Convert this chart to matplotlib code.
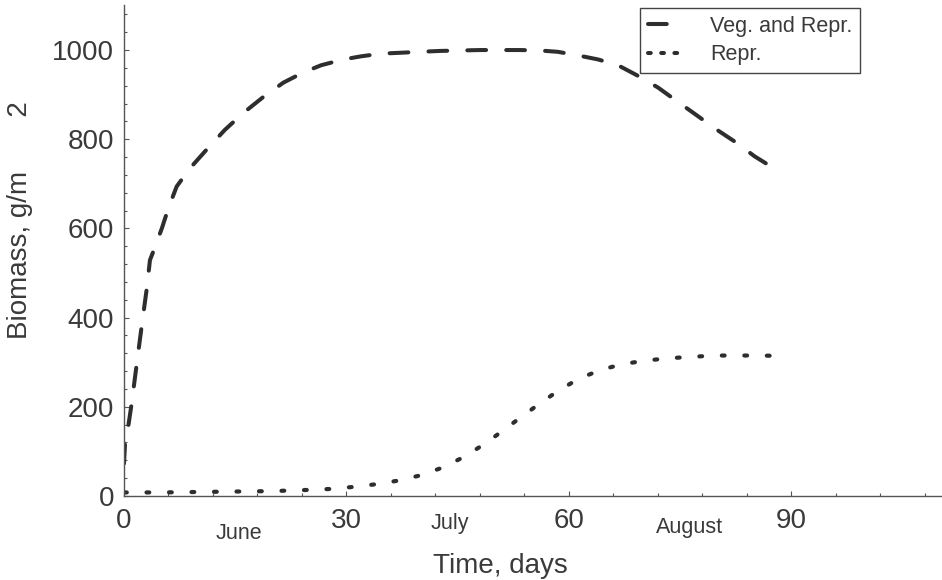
""" Biomass over the season: vegetative + reproductive vs reproductive only. """
import matplotlib as mpl
mpl.use('Agg')
import matplotlib.pyplot as plt
from matplotlib.ticker import MultipleLocator
from matplotlib.lines import Line2D
import matplotlib.transforms as mtransforms

# values
veg_days = [0, 0.15, 0.6, 1.0, 1.7, 2.4, 3.1, 3.5, 4.2, 5.1, 6.0, 7.1, 8.9, 11.1,
            13.6, 16.1, 18.8, 21.5, 24.2, 26.6, 29.6, 32.0, 34.7, 37.4, 39.9, 42.6,
            45.3, 48.0, 50.7, 53.4, 56.1, 58.5, 61.2, 63.9, 66.6, 69.1, 72.0, 74.5,
            77.2, 79.7, 82.6, 85.0, 88.0]
veg_biomass = [73, 119, 159, 204, 294, 383, 469, 529, 559, 600, 646, 694, 735, 776,
               821, 859, 895, 927, 950, 966, 979, 986, 992, 994, 996, 998,
               999, 1000, 1000, 1000, 999, 996, 988, 979, 966, 944, 916, 886,
               854, 824, 792, 762, 731]

repr_days = [0, 5, 10, 15, 20, 24.6, 27.7, 30.7, 33.8, 36.8, 39.9, 43.0, 46.0, 49.0,
             52.0, 55.2, 58.2, 61.2, 64.3, 67.3, 70.5, 73.5, 76.5, 79.6, 82.6, 85.6, 89.0]
repr_biomass = [8, 8, 9, 10, 11, 13.5, 15.7, 20, 26, 34, 46, 64, 89, 121,
                158, 197, 232, 262, 283, 296, 304, 309, 312, 315, 315, 315, 314]

series_labels = ['Veg. and Repr.', 'Repr.']
x_ticks = [0, 30, 60, 90]
month_names = ['June', 'July', 'August']
month_pos = [15.5, 43.9, 76.2]

plt.rcParams['font.family'] = ['Liberation Sans', 'DejaVu Sans']
plt.rcParams['lines.scale_dashes'] = False

ink = '#2e2e2e'
text_c = '#3a3a3a'
axis_c = '#555555'

fig = plt.figure(figsize=(9.42, 5.80), dpi=100)
ax = fig.add_axes([124 / 942, 84 / 580, 818 / 942, 491 / 580])

ax.plot(veg_days, veg_biomass, color=ink, lw=2.9, dashes=(13.5, 14.5),
        dash_capstyle='round', solid_capstyle='round')
ax.plot(repr_days, repr_biomass, color=ink, lw=3.0, dashes=(2.0, 14.2),
        dash_capstyle='round', solid_capstyle='round')

ax.set_xlim(0, 110.3)
ax.set_ylim(0, 1101)

for side in ['top', 'right']:
    ax.spines[side].set_visible(False)
for side in ['left', 'bottom']:
    ax.spines[side].set_color(axis_c)
    ax.spines[side].set_linewidth(1.0)

ax.set_xticks(x_ticks)
ax.xaxis.set_minor_locator(MultipleLocator(6))
ax.yaxis.set_major_locator(MultipleLocator(200))
ax.yaxis.set_minor_locator(MultipleLocator(40))
ax.tick_params(which='both', direction='in', color=axis_c, width=0.8)
ax.tick_params(which='major', length=3.5, labelsize=20, labelcolor=text_c)
ax.tick_params(which='minor', length=2)
ax.tick_params(axis='x', which='major', pad=9)
ax.tick_params(axis='y', which='major', pad=7)

# month names under the x axis
trans = mtransforms.blended_transform_factory(ax.transData, ax.transAxes)
month_y = [-0.0876, -0.0672, -0.0754]
for name, xpos, ypos in zip(month_names, month_pos, month_y):
    ax.text(xpos, ypos, name, transform=trans, ha='center', va='baseline',
            fontsize=15.5, color=text_c)

fig.text(500 / 942, 1 - 573 / 580, 'Time, days', ha='center', va='baseline',
         fontsize=20, color=text_c)
fig.text(20 / 942, 1 - 220 / 580, 'Biomass, g/m       2', rotation=90,
         ha='center', va='center', fontsize=20, color=text_c)

handles = [
    Line2D([], [], color=ink, lw=2.9, dashes=(13.5, 14.5), dash_capstyle='round'),
    Line2D([], [], color=ink, lw=2.9, dashes=(2.0, 7.5), dash_capstyle='round'),
]
leg = ax.legend(handles, series_labels, loc='upper right',
                bbox_to_anchor=(860 / 942, 1 - 8 / 580), bbox_transform=fig.transFigure,
                borderaxespad=0, fontsize=15.5, handlelength=1.8, handletextpad=1.1,
                labelspacing=0.35, borderpad=0.35, fancybox=False, framealpha=1,
                edgecolor='#444444', labelcolor=text_c)
leg.get_frame().set_linewidth(1.0)

fig.savefig('out.png', dpi=100)
